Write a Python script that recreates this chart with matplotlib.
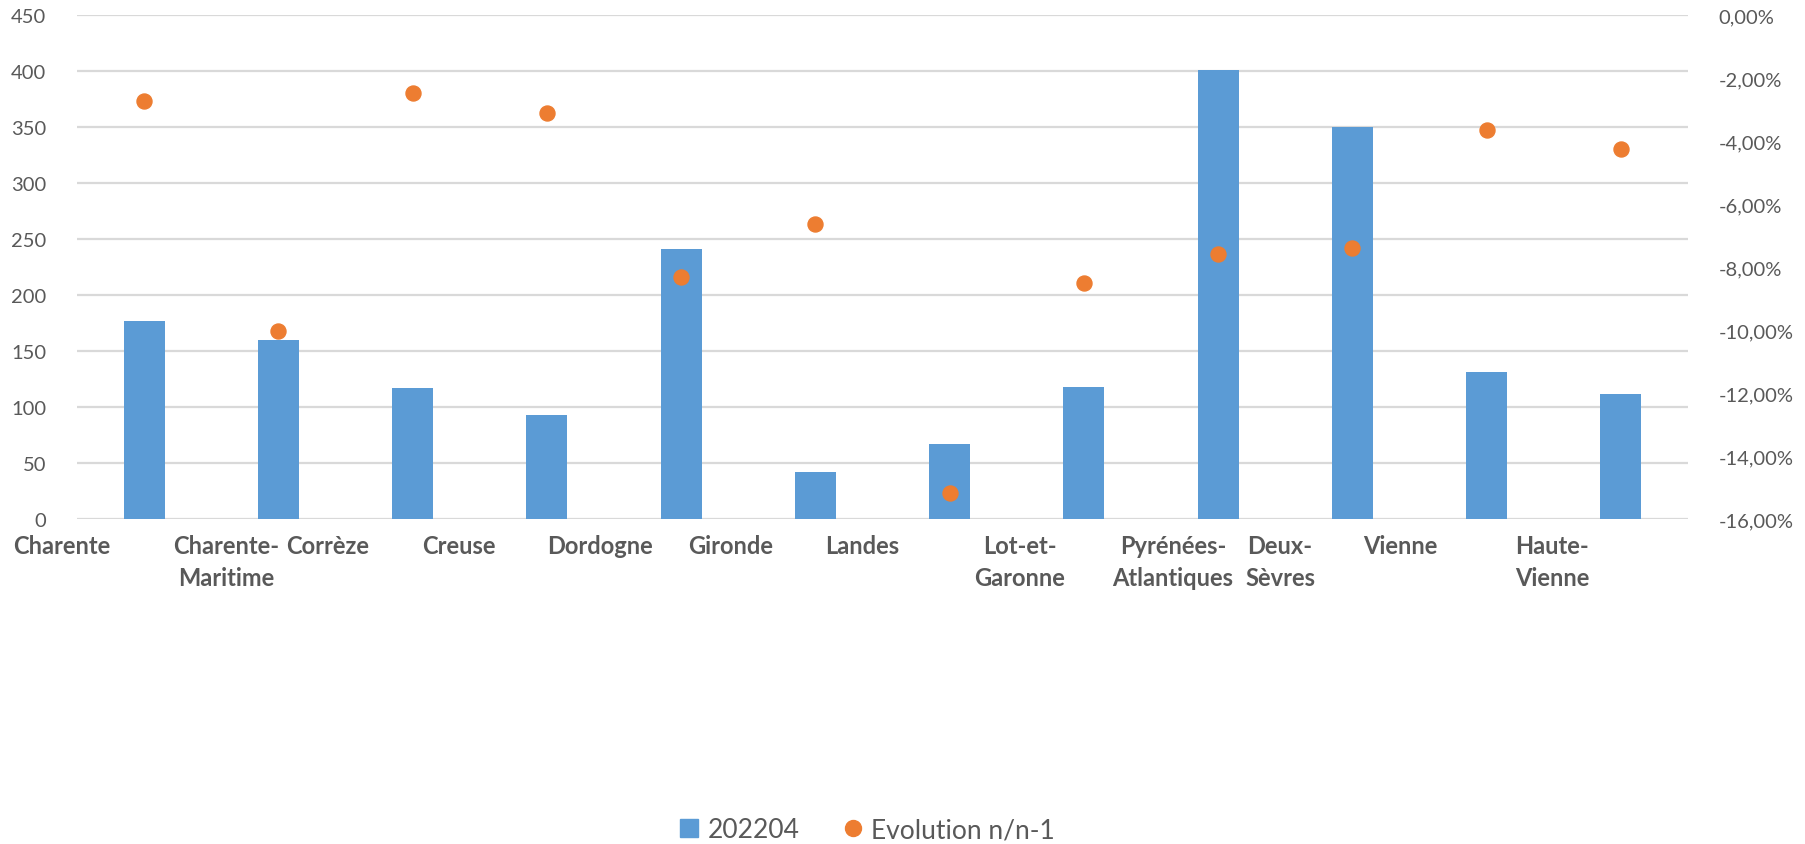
import matplotlib
matplotlib.use('Agg')
import matplotlib.pyplot as plt
import matplotlib.transforms as mtransforms
from matplotlib.lines import Line2D
from matplotlib.ticker import FuncFormatter, MultipleLocator

plt.rcParams['font.family'] = ['Lato', 'DejaVu Sans']

# données
departements = ['Charente', 'Charente-\nMaritime', 'Corrèze', 'Creuse', 'Dordogne', 'Gironde',
                'Landes', 'Lot-et-\nGaronne', 'Pyrénées-\nAtlantiques', 'Deux-\nSèvres',
                'Vienne', 'Haute-\nVienne']
valeurs_202204 = [177, 160, 117, 93, 241, 42, 67, 118, 401, 350, 131, 112]
evolution = [-0.0274, -0.1004, -0.0249, -0.0311, -0.0833, -0.0665, -0.1517,
             -0.0851, -0.0760, -0.0740, -0.0366, -0.0426]

# position des libellés (comme Excel les a posés)
label_x = [-0.61, 0.61, 1.37, 2.345, 3.396, 4.372, 5.347, 6.524, 7.664, 8.461, 9.355, 10.487]

BLUE = '#5B9BD5'
ORANGE = '#ED7D31'
GRID = '#D9D9D9'
TXT = '#595959'

fig = plt.figure(figsize=(18.06, 8.45), dpi=100)
ax = fig.add_axes([77 / 1806, 325 / 845, 1611 / 1806, 504 / 845])
ax2 = ax.twinx()

x = list(range(len(valeurs_202204)))
ax.bar(x, valeurs_202204, width=0.306, color=BLUE, zorder=2)
ax2.plot(x, evolution, 'o', color=ORANGE, markersize=10.8, zorder=3)

ax.set_xlim(-0.5, len(x) - 0.5)
ax.set_ylim(0, 450)
ax.yaxis.set_major_locator(MultipleLocator(50))
ax.grid(axis='y', color=GRID, linewidth=1.6, zorder=0)
ax.set_axisbelow(True)
ax.set_xticks([])

ax2.set_ylim(-0.16, 0)
ax2.yaxis.set_major_locator(MultipleLocator(0.02))
ax2.yaxis.set_major_formatter(FuncFormatter(lambda v, p: '{:.2f}%'.format(v * 100).replace('.', ',')))

for a in (ax, ax2):
    for s in a.spines.values():
        s.set_visible(False)
    a.tick_params(axis='y', length=0, labelsize=14.5, labelcolor=TXT, pad=22)
ax2.patch.set_visible(False)

# libellés des catégories
trans = mtransforms.blended_transform_factory(ax.transData, ax.transAxes)
for xp, lab in zip(label_x, departements):
    ax.text(xp, -15 / 504, lab, transform=trans, ha='center', va='top',
            fontsize=17, fontweight='bold', color=TXT, linespacing=1.45, multialignment='center')

handles = [Line2D([], [], marker='s', linestyle='none', color=BLUE, markersize=13),
           Line2D([], [], marker='o', linestyle='none', color=ORANGE, markersize=11.5)]
leg = fig.legend(handles, ['202204', 'Evolution n/n-1'], loc='center', bbox_to_anchor=(0.48, 0.017),
                 ncol=2, frameon=False, fontsize=19, handlelength=0.8, handletextpad=0.3,
                 columnspacing=1.6, labelcolor=TXT)

fig.savefig('out.png', dpi=100)
